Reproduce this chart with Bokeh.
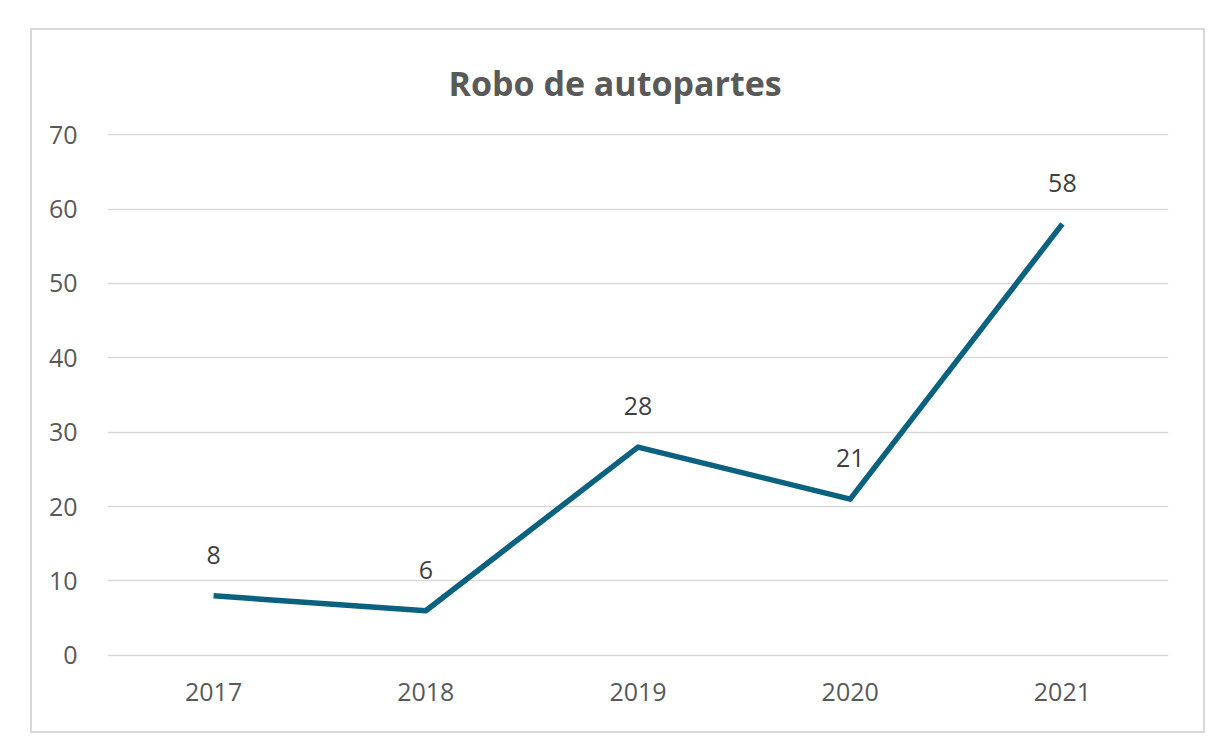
from bokeh.plotting import figure
from bokeh.models import FactorRange, Range1d, ColumnDataSource, FixedTicker
from bokeh.core.properties import value
from bokeh.embed import file_html
from bokeh.resources import INLINE

years = ["2017", "2018", "2019", "2020", "2021"]
robos = [8, 6, 28, 21, 58]
y_ticks = [0, 10, 20, 30, 40, 50, 60, 70]
title_text = "Robo de autopartes"

FONT = "Open Sans"
LINE_COLOR = "#0B6180"
GRID = "#d9d9d9"
TXT = "#595959"

p = figure(
    width=1175, height=705,
    x_range=FactorRange(*years, range_padding=0),
    y_range=Range1d(-0.15, 70.15),
    output_backend="svg", toolbar_location=None,
    min_border_left=75, min_border_right=39, min_border_top=103, min_border_bottom=79,
    background_fill_color="white", border_fill_color="white",
)
p.margin = (28, 0, 0, 30)
p.styles = {"border": "2px solid #d9d9d9"}
p.outline_line_color = None

p.title.text = title_text
p.title.align = "left"
p.title.offset = 341
p.title.text_font = FONT
p.title.text_font_size = "34px"
p.title.text_font_style = "bold"
p.title.text_color = TXT
p.title.text_line_height = 1.0
p.title.standoff = 55

src = ColumnDataSource(dict(x=years, y=robos, lbl=[str(v) for v in robos]))
p.line("x", "y", source=src, line_color=LINE_COLOR, line_width=5.5, line_join="round")
p.text("x", "y", text="lbl", source=src, text_align="center", text_baseline="alphabetic",
       y_offset=-41, text_font=value(FONT), text_font_size="25px", text_color="#404040")

p.xgrid.grid_line_color = None
p.ygrid.grid_line_color = GRID
p.ygrid.grid_line_width = 1.5
p.yaxis.ticker = FixedTicker(ticks=y_ticks)

for ax in (p.xaxis, p.yaxis):
    ax.axis_line_color = None
    ax.major_tick_line_color = None
    ax.minor_tick_line_color = None
    ax.major_label_text_font = FONT
    ax.major_label_text_font_size = "25px"
    ax.major_label_text_color = TXT
p.xaxis.major_label_standoff = 20
p.yaxis.major_label_standoff = 24

open("out.html", "w").write(file_html(p, INLINE))
